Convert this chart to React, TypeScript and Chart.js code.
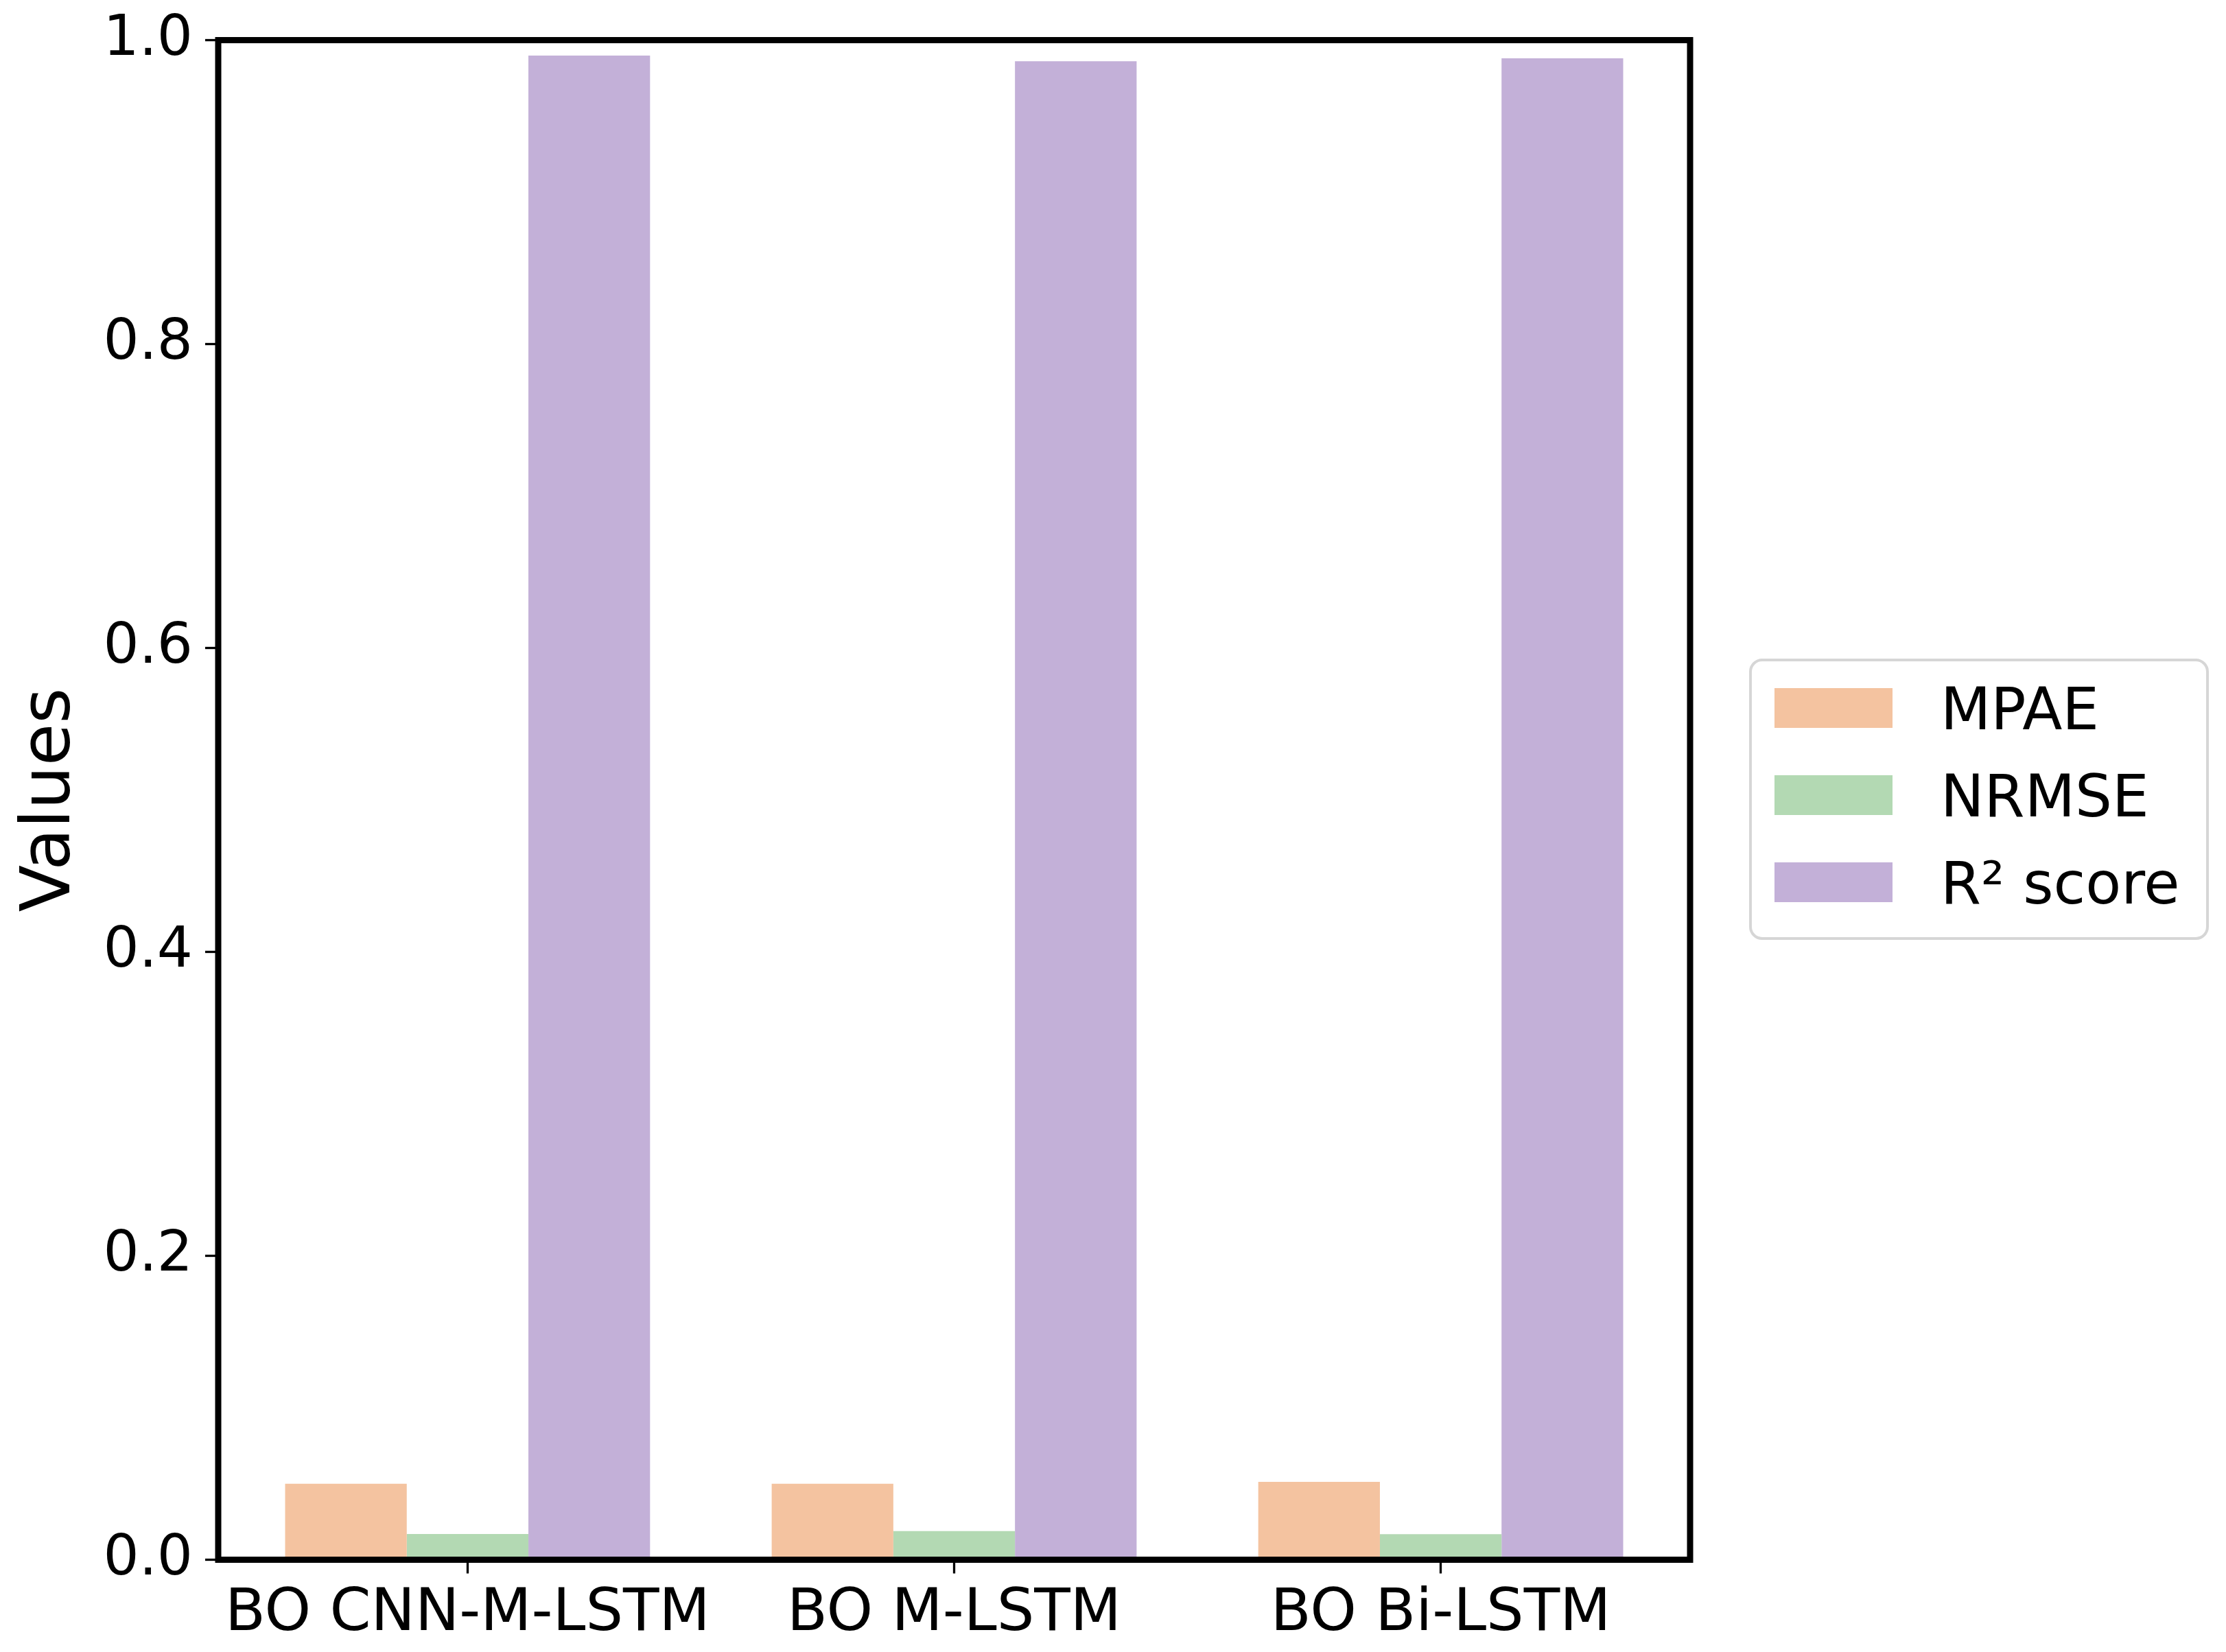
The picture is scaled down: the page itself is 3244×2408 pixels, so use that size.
import React, { useEffect, useRef } from "react";
import { Chart, registerables } from "chart.js";

Chart.register(...registerables);

const categories = ["BO CNN-M-LSTM", "BO M-LSTM", "BO Bi-LSTM"];
const seriesNames = ["MPAE", "NRMSE", "R² score"];
const mpae = [0.05, 0.05, 0.0512];
const nrmse = [0.0169, 0.0189, 0.0168];
const r2 = [0.9898, 0.9861, 0.988];
const seriesColors = ["#f4c3a0", "#b3d9b3", "#c3b0d8"];
const yTicks = [0, 0.2, 0.4, 0.6, 0.8, 1.0];

const FONT = "'DejaVu Sans', 'Liberation Sans', sans-serif";

const framePlugin = {
  id: "frame",
  afterDraw(chart: any) {
    const { ctx, chartArea } = chart;
    ctx.save();
    ctx.strokeStyle = "#000";
    ctx.lineWidth = 9;
    ctx.lineJoin = "miter";
    ctx.strokeRect(
      chartArea.left,
      chartArea.top,
      chartArea.right - chartArea.left,
      chartArea.bottom - chartArea.top
    );
    ctx.restore();
  },
};

const legendPlugin = {
  id: "customLegend",
  afterDraw(chart: any) {
    const { ctx } = chart;
    ctx.save();
    const bx = 2551, by = 962, bw = 666, bh = 406, r = 17;
    ctx.beginPath();
    ctx.moveTo(bx + r, by);
    ctx.lineTo(bx + bw - r, by);
    ctx.arcTo(bx + bw, by, bx + bw, by + r, r);
    ctx.lineTo(bx + bw, by + bh - r);
    ctx.arcTo(bx + bw, by + bh, bx + bw - r, by + bh, r);
    ctx.lineTo(bx + r, by + bh);
    ctx.arcTo(bx, by + bh, bx, by + bh - r, r);
    ctx.lineTo(bx, by + r);
    ctx.arcTo(bx, by, bx + r, by, r);
    ctx.closePath();
    ctx.fillStyle = "#ffffff";
    ctx.fill();
    ctx.lineWidth = 4;
    ctx.strokeStyle = "#d6d6d6";
    ctx.stroke();

    const fs = 85;
    ctx.font = `${fs}px ${FONT}`;
    ctx.textAlign = "left";
    ctx.textBaseline = "alphabetic";
    const rowCenters = [1032, 1159, 1286];
    seriesNames.forEach((name, i) => {
      const cy = rowCenters[i];
      ctx.fillStyle = seriesColors[i];
      ctx.fillRect(2586, cy - 29, 172, 58);
      ctx.fillStyle = "#000";
      ctx.fillText(name, 2828, cy + 0.729 * fs / 2);
    });
    ctx.restore();
  },
};

export default function App() {
  const canvasRef = useRef<HTMLCanvasElement | null>(null);

  useEffect(() => {
    document.body.style.margin = "0";
    const canvas = canvasRef.current;
    if (!canvas) return;
    Chart.defaults.font.family = FONT;

    const dataArrays = [mpae, nrmse, r2];
    const chart = new Chart(canvas, {
      type: "bar",
      data: {
        datasets: seriesNames.map((name, s) => ({
          label: name,
          data: categories.map((_, i) => ({ x: i, y: dataArrays[s][i] })),
          backgroundColor: seriesColors[s],
          borderWidth: 0,
          categoryPercentage: 0.75,
          barPercentage: 1.0,
        })),
      },
      options: {
        animation: false,
        responsive: false,
        devicePixelRatio: 1,
        layout: { padding: { left: 0, top: 58.5, right: 781, bottom: 0 } },
        plugins: {
          legend: { display: false },
          tooltip: { enabled: false },
        },
        scales: {
          x: {
            type: "linear",
            min: -0.5125,
            max: 2.5125,
            offset: false,
            border: { display: false },
            grid: {
              offset: false,
              drawOnChartArea: false,
              drawTicks: true,
              tickLength: 20,
              tickWidth: 3.3,
              tickColor: "#000",
            },
            afterBuildTicks: (scale: any) => {
              scale.ticks = categories.map((_, i) => ({ value: i }));
            },
            afterFit: (scale: any) => {
              scale.height = 134.5;
              scale.paddingLeft = 0;
              scale.paddingRight = 0;
            },
            ticks: {
              autoSkip: false,
              maxRotation: 0,
              minRotation: 0,
              padding: 9,
              color: "#000",
              font: { family: FONT, size: 86 },
              callback: (v: any) => categories[Math.round(Number(v))] ?? "",
            },
          },
          y: {
            type: "linear",
            min: 0,
            max: 1,
            border: { display: false },
            grid: {
              drawOnChartArea: false,
              drawTicks: true,
              tickLength: 19,
              tickWidth: 3.3,
              tickColor: "#000",
            },
            afterBuildTicks: (scale: any) => {
              scale.ticks = yTicks.map((v) => ({ value: v }));
            },
            afterFit: (scale: any) => {
              scale.width = 318;
              scale.paddingTop = 0;
              scale.paddingBottom = 0;
            },
            ticks: {
              padding: 18,
              color: "#000",
              font: { family: FONT, size: 82 },
              callback: (v: any) => Number(v).toFixed(1),
            },
            title: {
              display: true,
              text: "Values",
              color: "#000",
              font: { family: FONT, size: 100 },
              padding: { top: 15, bottom: 0 },
            },
          },
        },
      },
      plugins: [framePlugin, legendPlugin],
    } as any);

    return () => {
      chart.destroy();
    };
  }, []);

  return (
    <div style={{ width: 3244, height: 2408, background: "#fff" }}>
      <canvas
        ref={canvasRef}
        width={3244}
        height={2408}
        style={{ display: "block", width: 3244, height: 2408 }}
      />
    </div>
  );
}
